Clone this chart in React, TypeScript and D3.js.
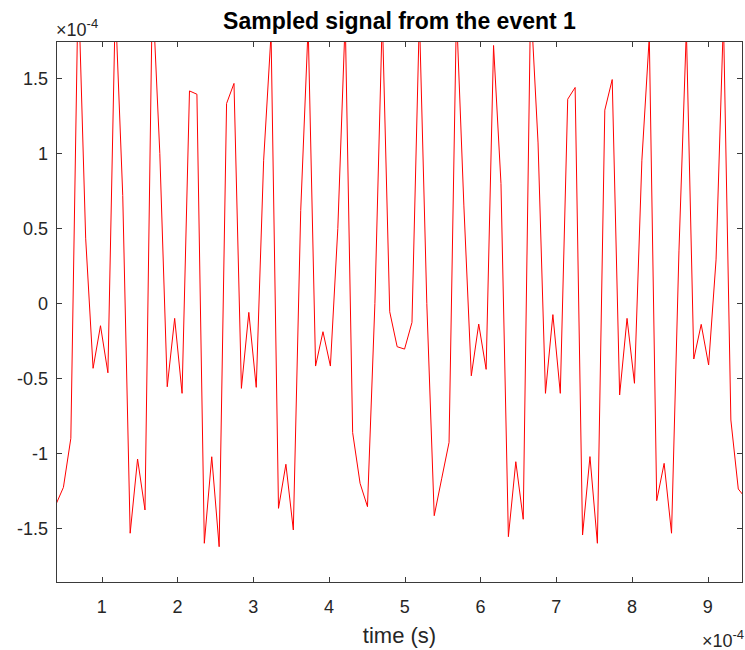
import React from "react";
import * as d3 from "d3";

// Sampled signal values (units of 1e-4), one per sample
const signal: number[] = [
  -1.34, -1.227, -0.9, 2.15, 0.435, -0.433, -0.149, -0.463, 2.0, 0.72,
  -1.533, -1.038, -1.378, 2.1, 1.0, -0.556, -0.1, -0.6, 1.417, 1.395,
  -1.6, -1.023, -1.623, 1.333, 1.467, -0.567, -0.06, -0.56, 0.955, 1.8,
  -1.367, -1.073, -1.511, 0.62, 1.85, -0.418, -0.189, -0.418, 0.5, 1.9,
  -0.862, -1.2, -1.356, 0.0, 1.92, -0.056, -0.289, -0.305, -0.127, 1.92,
  0.0, -1.416, -1.17, -0.927, 1.95, 0.65, -0.483, -0.138, -0.44, 1.72,
  0.8, -1.556, -1.056, -1.44, 2.03, 1.07, -0.6, -0.075, -0.6, 1.362,
  1.44, -1.545, -1.022, -1.6, 1.289, 1.493, -0.611, -0.1, -0.533, 0.955,
  1.78, -1.316, -1.067, -1.533, 0.35, 1.83, -0.371, -0.14, -0.411, 0.29,
  1.9, -0.778, -1.238, -1.3,
];
// sample timing (units of 1e-4 s)
const sampleStart = 0.397;
const samplePeriod = 0.0979;

const xTicks = [1, 2, 3, 4, 5, 6, 7, 8, 9];
const yTicks = [-1.5, -1, -0.5, 0, 0.5, 1, 1.5];
const xDomain: [number, number] = [0.397, 9.466];
const yDomain: [number, number] = [-1.865, 1.75];

const titleText = "Sampled signal from the event 1";
const xLabelText = "time (s)";

const W = 745;
const H = 650;
const M = { left: 56, right: 743, top: 41, bottom: 583 };

export default function App() {
  const x = d3.scaleLinear().domain(xDomain).range([M.left, M.right]);
  const y = d3.scaleLinear().domain(yDomain).range([M.bottom, M.top]);
  const pts: [number, number][] = signal.map((v, i) => [sampleStart + i * samplePeriod, v]);
  const line = d3
    .line<[number, number]>()
    .x((d) => x(d[0]))
    .y((d) => y(d[1]));
  const axisColor = "#3a3a3a";
  const textColor = "#262626";
  const font = "'Liberation Sans', Arial, Helvetica, sans-serif";
  const tl = 6;
  const fmt = (v: number) => (v === 0 ? "0" : String(v));
  return (
    <svg
      width={W}
      height={H}
      style={{ position: "absolute", left: 0, top: 0, background: "#fff" }}
      fontFamily={font}
    >
      <rect x={0} y={0} width={W} height={H} fill="#fff" />
      <defs>
        <clipPath id="plotclip">
          <rect x={M.left} y={M.top} width={M.right - M.left} height={M.bottom - M.top} />
        </clipPath>
      </defs>
      <path
        d={line(pts) || ""}
        fill="none"
        stroke="#ff0000"
        strokeWidth={1}
        clipPath="url(#plotclip)"
      />
      {/* box */}
      <rect
        x={M.left + 0.5}
        y={M.top + 0.5}
        width={M.right - M.left - 1}
        height={M.bottom - M.top - 1}
        fill="none"
        stroke={axisColor}
        strokeWidth={1}
      />
      {/* x ticks */}
      {xTicks.map((t) => {
        const px = Math.round(x(t)) + 0.5;
        return (
          <g key={"xt" + t}>
            <line x1={px} x2={px} y1={M.bottom} y2={M.bottom - tl} stroke={axisColor} />
            <line x1={px} x2={px} y1={M.top} y2={M.top + tl} stroke={axisColor} />
            <text x={x(t)} y={613} textAnchor="middle" fontSize={18} fill={textColor}>
              {fmt(t)}
            </text>
          </g>
        );
      })}
      {/* y ticks */}
      {yTicks.map((t) => {
        const py = Math.round(y(t)) + 0.5;
        return (
          <g key={"yt" + t}>
            <line x1={M.left} x2={M.left + tl} y1={py} y2={py} stroke={axisColor} />
            <line x1={M.right} x2={M.right - tl} y1={py} y2={py} stroke={axisColor} />
            <text x={48} y={y(t) + 6.5} textAnchor="end" fontSize={18} fill={textColor}>
              {fmt(t)}
            </text>
          </g>
        );
      })}
      {/* exponent labels */}
      <text x={56} y={36} fontSize={18} fill={textColor}>
        ×10
        <tspan dy={-8} fontSize={13}>
          -4
        </tspan>
      </text>
      <text x={744} y={647} fontSize={18} fill={textColor} textAnchor="end">
        ×10
        <tspan dy={-8} fontSize={13}>
          -4
        </tspan>
      </text>
      {/* title */}
      <text
        x={(M.left + M.right) / 2}
        y={29}
        textAnchor="middle"
        fontSize={23}
        fontWeight="bold"
        fill="#000"
      >
        {titleText}
      </text>
      {/* x label */}
      <text x={(M.left + M.right) / 2} y={643} textAnchor="middle" fontSize={22} fill={textColor}>
        {xLabelText}
      </text>
    </svg>
  );
}
